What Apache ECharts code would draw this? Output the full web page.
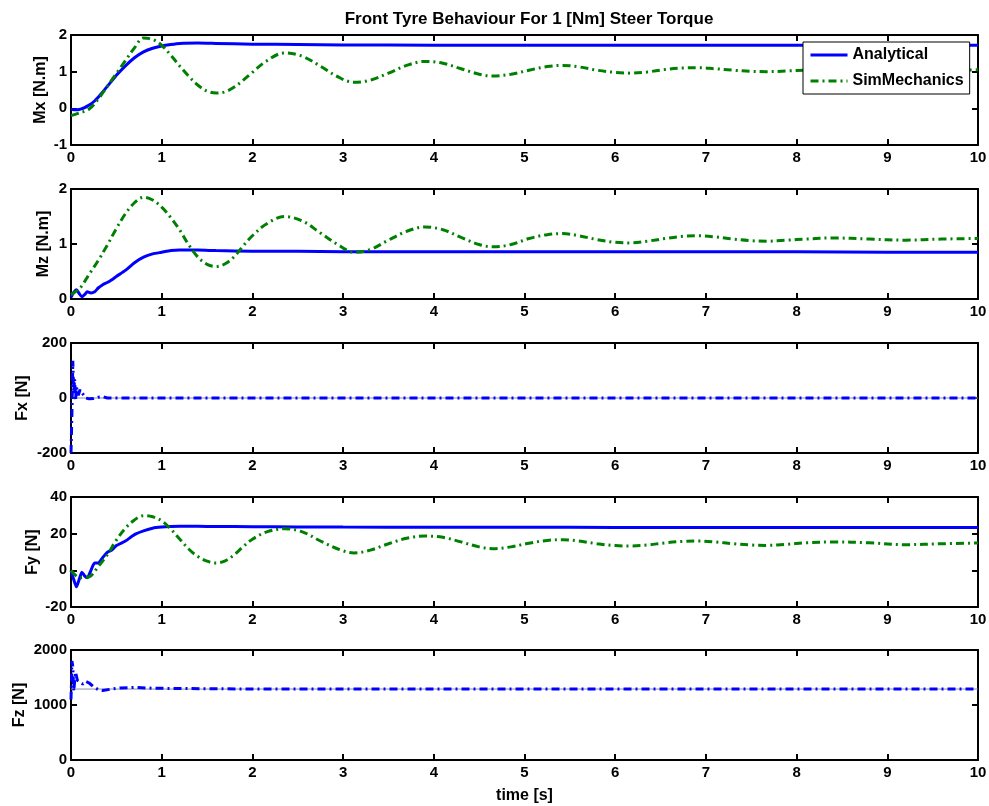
<!DOCTYPE html>
<html>
<head>
<meta charset="utf-8">
<script src="https://cdn.jsdelivr.net/npm/echarts@6/dist/echarts.min.js"></script>
<style>
html,body{margin:0;padding:0;background:#fff;}
#chart{width:989px;height:806px;}
</style>
</head>
<body>
<div id="chart"></div>
<script>
// ---------- DATA ----------
const titleText = 'Front Tyre Behaviour For 1 [Nm] Steer Torque';
const xName = 'time [s]';
const panelNames = ['Mx [N.m]', 'Mz [N.m]', 'Fx [N]', 'Fy [N]', 'Fz [N]'];
const yMins = [-1, 0, -200, -20, 0];
const yMaxs = [2, 2, 200, 40, 2000];
const yIntervals = [1, 1, 200, 20, 1000];
const xTicks = [0, 1, 2, 3, 4, 5, 6, 7, 8, 9, 10];

// SimMechanics (green dash-dot) sample times
const tSim = [0, 0.1, 0.2, 0.3, 0.4, 0.5, 0.6, 0.7, 0.8, 0.9, 1.0, 1.1, 1.2, 1.3, 1.4, 1.5, 1.6, 1.7, 1.8, 1.9, 2.0,
  2.15, 2.35, 2.55, 2.75, 2.95, 3.12, 3.3, 3.5, 3.7, 3.9, 4.1, 4.3, 4.5, 4.65, 4.85, 5.05, 5.25, 5.42, 5.6, 5.8,
  6.0, 6.17, 6.35, 6.55, 6.75, 6.92, 7.1, 7.3, 7.5, 7.67, 7.9, 8.1, 8.4, 8.8, 9.2, 9.6, 10.0];
const mxSim = [-0.2, -0.12, -0.02, 0.25, 0.6, 0.95, 1.3, 1.65, 1.92, 1.88, 1.72, 1.45, 1.15, 0.87, 0.63, 0.47, 0.42, 0.45, 0.58, 0.77, 0.98,
  1.28, 1.51, 1.42, 1.15, 0.85, 0.71, 0.77, 0.96, 1.17, 1.28, 1.23, 1.08, 0.93, 0.88, 0.93, 1.04, 1.14, 1.17, 1.13, 1.04,
  0.98, 0.96, 0.99, 1.06, 1.10, 1.11, 1.08, 1.04, 1.01, 1.00, 1.02, 1.04, 1.07, 1.05, 1.02, 1.04, 1.05];
const mzSim = [0.08, 0.2, 0.45, 0.7, 0.98, 1.28, 1.55, 1.75, 1.85, 1.8, 1.67, 1.48, 1.25, 0.98, 0.76, 0.63, 0.59, 0.64, 0.77, 0.97, 1.15,
  1.36, 1.5, 1.42, 1.2, 0.98, 0.85, 0.9, 1.07, 1.23, 1.31, 1.26, 1.12, 0.99, 0.95, 0.99, 1.1, 1.17, 1.19, 1.15, 1.08,
  1.03, 1.02, 1.05, 1.1, 1.14, 1.15, 1.13, 1.09, 1.06, 1.05, 1.07, 1.09, 1.11, 1.09, 1.07, 1.09, 1.1];
const fySim = [0, -4, -3.5, 2, 8.5, 16.5, 23, 27.5, 29.8, 29.2, 27, 22.5, 17, 11.5, 7.5, 5, 4, 5.2, 8.5, 13, 17,
  20.8, 22.7, 21, 16, 11.5, 9.5, 11, 14.5, 17.5, 18.7, 18, 15.5, 12.8, 11.8, 12.8, 14.8, 16.3, 16.7, 16, 14.5,
  13.5, 13.3, 13.8, 15, 15.8, 16, 15.5, 14.5, 13.8, 13.6, 14.2, 15, 15.5, 15, 14, 14.5, 14.9];

// Analytical (blue solid) sample times
const tAna = [0, 0.03, 0.06, 0.09, 0.12, 0.15, 0.18, 0.22, 0.26, 0.3, 0.35, 0.4, 0.45, 0.5, 0.6, 0.7, 0.8, 0.9, 1.0,
  1.1, 1.2, 1.4, 1.6, 2.0, 2.5, 3, 4, 5, 6, 7, 8, 9, 10];
const mxAna = [-0.02, -0.04, -0.04, -0.03, -0.01, 0.02, 0.06, 0.12, 0.2, 0.3, 0.45, 0.6, 0.75, 0.9, 1.16, 1.38, 1.54, 1.64, 1.70,
  1.74, 1.77, 1.78, 1.77, 1.75, 1.74, 1.73, 1.72, 1.72, 1.72, 1.72, 1.72, 1.72, 1.72];
const mzAna = [0.03, 0.12, 0.17, 0.1, 0.04, 0.08, 0.13, 0.11, 0.13, 0.2, 0.26, 0.3, 0.35, 0.41, 0.52, 0.66, 0.76, 0.82, 0.85,
  0.88, 0.89, 0.89, 0.88, 0.87, 0.87, 0.86, 0.86, 0.86, 0.86, 0.86, 0.86, 0.85, 0.85];
const fyAna = [0, -5, -9, -5, -1, -3, -4, 0, 4, 4, 7, 9.8, 11, 13.5, 16, 19.5, 21.5, 23, 23.6,
  23.9, 24, 24, 23.9, 23.8, 23.7, 23.6, 23.5, 23.5, 23.4, 23.4, 23.4, 23.4, 23.4];

// Fx and Fz (blue dash-dot)
const tFx = [0, 0.01, 0.02, 0.03, 0.04, 0.05, 0.06, 0.08, 0.1, 0.13, 0.16, 0.2, 0.25, 0.3, 0.35, 0.4, 1, 2, 3, 4, 5, 6, 7, 8, 9, 10];
const fxSim = [-200, -60, 135, 20, 70, -10, 40, 10, 30, 15, 0, -3, -2, 3, 5, 0, 0, 0, 0, 0, 0, 0, 0, 0, 0, 0];
const tFz = [0, 0.01, 0.02, 0.03, 0.05, 0.07, 0.1, 0.13, 0.16, 0.2, 0.25, 0.3, 0.35, 0.45, 0.55, 0.7, 0.9, 1.2, 2, 3, 4, 5, 6, 7, 8, 9, 10];
const fzSim = [1100, 1800, 1700, 1250, 1600, 1450, 1420, 1380, 1430, 1400, 1330, 1280, 1265, 1290, 1310, 1320, 1305, 1300, 1290, 1290, 1290, 1290, 1290, 1290, 1290, 1290, 1290];
// thin reference lines
const tRef = [0, 10];
const fxRef = [0, 0];
const fzRef = [1290, 1290];

// ---------- CHART ----------
const FONT = '"Liberation Sans", Arial, sans-serif';
const zip = (t, v) => t.map((x, i) => [x, v[i]]);
const tops = [35, 189, 343, 497, 650];
const nameGaps = [22, 19, 40, 30, 43];
const H = 110;
const BLUE = '#0000ff';
const GREEN = '#008000';
const DASHDOT = [8, 4, 2, 4];

const grids = [], xAxes = [], yAxes = [];
const axisLine = { show: true, onZero: false, lineStyle: { color: '#000', width: 2 } };
const axisTick = { show: true, inside: true, length: 6, lineStyle: { color: '#000', width: 2 } };
tops.forEach((top, i) => {
  grids.push({ left: 71, right: 11, top: top, height: H, containLabel: false, outerBoundsMode: 'none' });
  const last = i === tops.length - 1;
  xAxes.push({
    type: 'value', gridIndex: i, position: 'bottom', min: 0, max: 10, interval: 1,
    axisLine, axisTick, splitLine: { show: false },
    axisLabel: { show: true, color: '#000', fontFamily: FONT, fontWeight: 'bold', fontSize: 15, margin: 5,
      formatter: v => String(v) },
    name: last ? xName : '', nameLocation: 'middle', nameGap: 28, nameMoveOverlap: false,
    nameTextStyle: { color: '#000', fontFamily: FONT, fontWeight: 'bold', fontSize: 16 }
  });
  xAxes.push({
    type: 'value', gridIndex: i, position: 'top', min: 0, max: 10, interval: 1,
    axisLine, axisTick, splitLine: { show: false }, axisLabel: { show: false }
  });
  yAxes.push({
    type: 'value', gridIndex: i, position: 'left', min: yMins[i], max: yMaxs[i], interval: yIntervals[i],
    axisLine, axisTick, splitLine: { show: false },
    axisLabel: { show: true, color: '#000', fontFamily: FONT, fontWeight: 'bold', fontSize: 15, margin: 4,
      formatter: v => String(v) },
    name: panelNames[i], nameLocation: 'middle', nameGap: nameGaps[i], nameRotate: 90, nameMoveOverlap: false,
    nameTextStyle: { color: '#000', fontFamily: FONT, fontWeight: 'bold', fontSize: 16 }
  });
  yAxes.push({
    type: 'value', gridIndex: i, position: 'right', min: yMins[i], max: yMaxs[i], interval: yIntervals[i],
    axisLine, axisTick, splitLine: { show: false }, axisLabel: { show: false }
  });
});

const solid = (name, i, data, color) => ({
  name, type: 'line', xAxisIndex: 2 * i, yAxisIndex: 2 * i, data, showSymbol: false, symbol: 'none',
  smooth: 0.2, lineStyle: { color, width: 3, type: 'solid' }, itemStyle: { color }, animation: false, z: 3
});
const dashed = (name, i, data, color, smooth) => ({
  name, type: 'line', xAxisIndex: 2 * i, yAxisIndex: 2 * i, data, showSymbol: false, symbol: 'none',
  smooth: smooth, lineStyle: { color, width: 3, type: DASHDOT }, itemStyle: { color }, animation: false, z: 4
});
const thin = (name, i, data) => ({
  name, type: 'line', xAxisIndex: 2 * i, yAxisIndex: 2 * i, data, showSymbol: false, symbol: 'none',
  lineStyle: { color: '#8a8fa8', width: 1 }, itemStyle: { color: '#8a8fa8' }, animation: false, z: 2
});

const series = [
  solid('Analytical', 0, zip(tAna, mxAna), BLUE),
  dashed('SimMechanics', 0, zip(tSim, mxSim), GREEN, 0.35),
  solid('Analytical', 1, zip(tAna, mzAna), BLUE),
  dashed('SimMechanics', 1, zip(tSim, mzSim), GREEN, 0.35),
  thin('Fx ref', 2, zip(tRef, fxRef)),
  dashed('Fx', 2, zip(tFx, fxSim), BLUE, false),
  solid('Analytical', 3, zip(tAna, fyAna), BLUE),
  dashed('SimMechanics', 3, zip(tSim, fySim), GREEN, 0.35),
  thin('Fz ref', 4, zip(tRef, fzRef)),
  dashed('Fz', 4, zip(tFz, fzSim), BLUE, false)
];

const chart = echarts.init(document.getElementById('chart'), null, { renderer: 'canvas' });
chart.setOption({
  backgroundColor: '#fff',
  animation: false,
  title: {
    text: titleText, left: 524, top: 6, textAlign: 'center',
    textStyle: { color: '#000', fontFamily: FONT, fontWeight: 'bold', fontSize: 17 }
  },
  legend: {
    show: true,
    data: ['Analytical', 'SimMechanics'], orient: 'vertical', left: 803, top: 42,
    padding: [5, 6, 5, 6], itemGap: 10, itemWidth: 37, itemHeight: 14,
    backgroundColor: '#fff', borderColor: '#000', borderWidth: 1, z: 10,
    itemStyle: { opacity: 0 },
    lineStyle: { width: 3 },
    textStyle: { color: '#000', fontFamily: FONT, fontWeight: 'bold', fontSize: 16 }
  },
  grid: grids,
  xAxis: xAxes,
  yAxis: yAxes,
  series: series
});
</script>
</body>
</html>
